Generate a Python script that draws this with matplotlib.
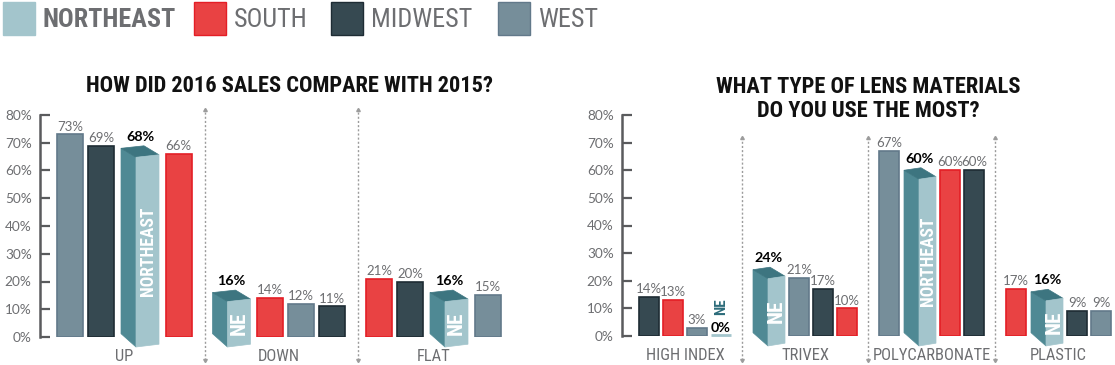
import matplotlib
matplotlib.use("Agg")
import matplotlib.pyplot as plt
from matplotlib.patches import Polygon, Rectangle
from matplotlib import font_manager

# ---------------------------
# Data
# ---------------------------
regions = ["NORTHEAST", "SOUTH", "MIDWEST", "WEST"]

sales_title = "HOW DID 2016 SALES COMPARE WITH 2015?"
sales_groups = ["UP", "DOWN", "FLAT"]
sales_order = [
    ["WEST", "MIDWEST", "NORTHEAST", "SOUTH"],
    ["NORTHEAST", "SOUTH", "WEST", "MIDWEST"],
    ["SOUTH", "MIDWEST", "NORTHEAST", "WEST"],
]
sales_values = [
    [73, 69, 68, 66],
    [16, 14, 12, 11],
    [21, 20, 16, 15],
]

lens_title = "WHAT TYPE OF LENS MATERIALS\nDO YOU USE THE MOST?"
lens_groups = ["HIGH INDEX", "TRIVEX", "POLYCARBONATE", "PLASTIC"]
lens_order = [
    ["MIDWEST", "SOUTH", "WEST", "NORTHEAST"],
    ["NORTHEAST", "WEST", "MIDWEST", "SOUTH"],
    ["WEST", "NORTHEAST", "SOUTH", "MIDWEST"],
    ["SOUTH", "NORTHEAST", "MIDWEST", "WEST"],
]
lens_values = [
    [14, 13, 3, 0],
    [24, 21, 17, 10],
    [67, 60, 60, 60],
    [17, 16, 9, 9],
]

y_ticks = [0, 10, 20, 30, 40, 50, 60, 70, 80]

# ---------------------------
# Styles
# ---------------------------
fill = {"NORTHEAST": "#a3c5cc", "SOUTH": "#e94243", "MIDWEST": "#364951", "WEST": "#768e9a"}
edge = {"NORTHEAST": "#a3c5cc", "SOUTH": "#e41e26", "MIDWEST": "#1e2c34", "WEST": "#62798a"}
NE_SIDE = "#4f8994"
NE_TOP = "#3d7580"
NE_DARK = "#2c6c7a"
GRAY = "#6d6e71"

names = {f.name for f in font_manager.fontManager.ttflist}
NARROW = "Roboto"
for cand in ["Liberation Sans Narrow", "Roboto Condensed", "DejaVu Sans Condensed", "Open Sans Condensed"]:
    if cand in names:
        NARROW = cand
        break
SMALL = "Lato" if "Lato" in names else "DejaVu Sans"

W, H = 1115, 365
fig = plt.figure(figsize=(W / 100, H / 100), dpi=100)
renderer = fig.canvas.get_renderer()


def fx(px):
    return px / W


def fy(py):
    return (H - py) / H


def fit_size(text, weight, target, family=NARROW, base=12.0):
    # font size that makes `text` about `target` pixels wide
    t = fig.text(0, 0, text, family=family, weight=weight, fontsize=base)
    w = t.get_window_extent(renderer).width
    t.remove()
    return base * target / w


TITLE_SIZE = fit_size(sales_title, "bold", 407)
LEGEND_SIZE = fit_size("SOUTH MIDWEST", "normal", 180)
CAT_SIZE = fit_size("POLYCARBONATE", "normal", 118)
NE_BIG = fit_size("NORTHEAST", "bold", 90)

# ---------------------------
# Legend
# ---------------------------
leg_sq = [3, 194, 331, 498]
for name, x0 in zip(regions, leg_sq):
    fig.patches.append(Rectangle((fx(x0), fy(35)), fx(32), 33 / H, transform=fig.transFigure,
                                 facecolor=fill[name], edgecolor=edge[name], lw=1))
    fig.text(fx(x0 + 40), fy(27), name, family=NARROW, fontsize=LEGEND_SIZE, color=GRAY,
             weight="bold" if name == "NORTHEAST" else "normal", va="baseline")


def layout(order, start, bw, gap, ne_gap, dx, box_w, after, group_gap, values):
    groups = []
    x = start
    for names_g, vals in zip(order, values):
        items = []
        g_start = x
        for i, (name, v) in enumerate(zip(names_g, vals)):
            if name == "NORTHEAST" and v > 0:
                if i > 0:
                    x += ne_gap - gap
                items.append(("box", name, x, v))
                x += dx + box_w + after
            else:
                items.append(("bar", name, x, v))
                x += bw + gap
        g_end = x - (after if items[-1][0] == "box" else gap)
        groups.append((g_start, g_end, items))
        x = g_end + group_gap
    return groups


def draw_chart(ax, x_axis, y0, y80, order, values, labels, title_lines, title_x, title_y,
               bw, gap, ne_gap, dx, box_w, after, group_gap, start, div_top, div_shift,
               small_size):
    ppu = (y0 - y80) / 80.0        # pixels per percent
    ax.set_xlim(x_axis, W)
    ax.set_ylim(0, 80)
    for s in ["top", "right", "bottom"]:
        ax.spines[s].set_visible(False)
    ax.spines["left"].set_color("#5a5b5d")
    ax.spines["left"].set_linewidth(1.8)
    ax.set_xticks([])
    ax.set_yticks(y_ticks)
    ax.set_yticklabels([f"{t}%" for t in y_ticks], family=SMALL, fontsize=9.8, color=GRAY)
    ax.tick_params(axis="y", direction="in", length=7.5, width=1.6, color="#5a5b5d", pad=6)

    groups = layout(order, start, bw, gap, ne_gap, dx, box_w, after, group_gap, values)
    d = 9 / ppu          # front face drop
    s = 2.5 / ppu        # slope of top edge
    for gi, (g0, g1, items) in enumerate(groups):
        for kind, name, x, v in items:
            if kind == "bar":
                if v == 0:
                    ax.plot([x, x + bw], [0.3, 0.3], color=fill[name], lw=2, clip_on=False,
                            solid_capstyle="butt")
                    ax.text(x + bw / 2, 1.4, "0%", family=SMALL, weight="bold", fontsize=small_size + 0.8,
                            color="black", ha="center", va="baseline")
                    ax.text(x + bw / 2, 10.5, "NE", family=NARROW, weight="bold", fontsize=NE_BIG * 0.85,
                            color=NE_DARK, ha="center", va="center", rotation=90)
                    continue
                ax.bar(x, v, width=bw, align="edge", color=fill[name], edgecolor=edge[name],
                       linewidth=1.2)
                ax.text(x + bw / 2, v + 1.4, f"{v}%", family=SMALL, fontsize=small_size,
                        color=GRAY, ha="center", va="baseline")
            else:
                bl_t = (x, v)
                br_t = (x + box_w, v + s)
                fl_t = (x + dx, v - d)
                fr_t = (x + dx + box_w, v - d + s)
                bl_b = (x, 1.2)
                fl_b = (x + dx, -3.6)
                fr_b = (x + dx + box_w, -2.6)
                ax.add_patch(Polygon([bl_t, fl_t, fl_b, bl_b], closed=True, facecolor=NE_SIDE,
                                     edgecolor=NE_SIDE, lw=0.5, clip_on=False))
                ax.add_patch(Polygon([bl_t, br_t, fr_t, fl_t], closed=True, facecolor=NE_TOP,
                                     edgecolor=NE_TOP, lw=0.5, clip_on=False))
                ax.add_patch(Polygon([fl_t, fr_t, fr_b, fl_b], closed=True, facecolor=fill[name],
                                     edgecolor=fill[name], lw=0.5, clip_on=False))
                ax.text(x + (dx + box_w) / 2, v + s + 1.8, f"{v}%", family=SMALL, weight="bold",
                        fontsize=small_size + 0.8, color="black", ha="center", va="baseline")
                label = "NORTHEAST" if v > 40 else "NE"
                ax.text(x + dx + box_w / 2, (v - d - 3.6) / 2 + 0.5, label, family=NARROW,
                        weight="bold", fontsize=NE_BIG * (1.0 if v > 40 else 1.2), color="white",
                        ha="center", va="center", rotation=90)
        ax.text((g0 + g1) / 2, -7.2, labels[gi], family=NARROW, fontsize=CAT_SIZE, color=GRAY,
                ha="center", va="center", clip_on=False)
        if gi > 0:
            xd = (groups[gi - 1][1] + g0) / 2 + div_shift
            y_bot = -(360 - y0) / ppu
            ax.plot([xd, xd], [y_bot, div_top], color="#9c9c9c", lw=1,
                    ls=(0, (1.5, 1.5)), clip_on=False)
            ax.plot([xd], [div_top], marker=(3, 0, 0), ms=3, color="#9c9c9c", clip_on=False)
            ax.plot([xd], [y_bot], marker=(3, 0, 180), ms=3, color="#9c9c9c", clip_on=False)

    for i, line in enumerate(title_lines):
        fig.text(fx(title_x), fy(title_y + 24 * i), line, family=NARROW, weight="bold",
                 fontsize=TITLE_SIZE, color="#111111", ha="center", va="baseline")


# ---------------------------
# Left chart
# ---------------------------
L_AXIS, L_Y0, L_Y80 = 40, 337, 115
ax1 = fig.add_axes([fx(L_AXIS), fy(L_Y0), fx(560 - L_AXIS), (L_Y0 - L_Y80) / H])
draw_chart(ax1, L_AXIS, L_Y0, L_Y80, sales_order, sales_values, sales_groups,
           [sales_title], 290, 92, bw=26, gap=5, ne_gap=7, dx=15, box_w=23, after=6.5,
           group_gap=21, start=57, div_top=(L_Y0 - 110) / ((L_Y0 - L_Y80) / 80), div_shift=2.5,
           small_size=9.5)
ax1.set_xlim(L_AXIS, 560)

# ---------------------------
# Right chart
# ---------------------------
R_AXIS, R_Y0, R_Y80 = 622, 336, 115
ax2 = fig.add_axes([fx(R_AXIS), fy(R_Y0), fx(W - R_AXIS), (R_Y0 - R_Y80) / H])
draw_chart(ax2, R_AXIS, R_Y0, R_Y80, lens_order, lens_values, lens_groups,
           lens_title.split("\n"), 868, 93, bw=20, gap=4, ne_gap=5, dx=15, box_w=17, after=4,
           group_gap=22, start=639, div_top=(R_Y0 - 138) / ((R_Y0 - R_Y80) / 80), div_shift=0,
           small_size=9.5)

fig.savefig("out.png", dpi=100)
